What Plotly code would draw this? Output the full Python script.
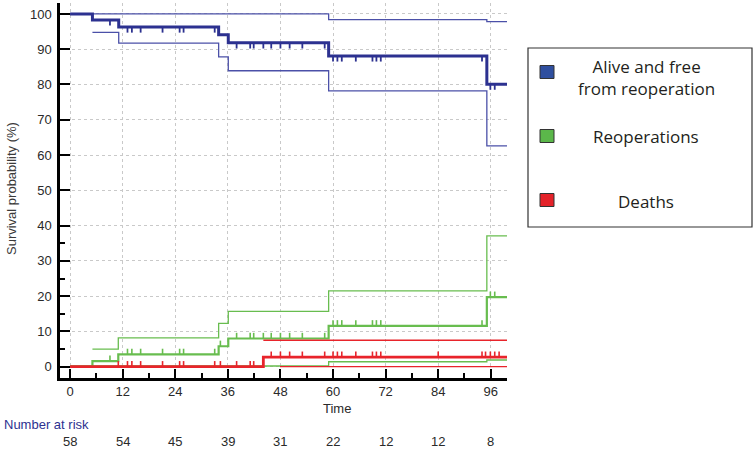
import plotly.graph_objects as go
import bisect

# ---------------- data ----------------
follow_up_end = 100

# Alive and free from reoperation (Kaplan-Meier, %)
blue_t = [0, 5.1, 11.1, 33.9, 36.1, 59.0, 95.1]
blue_v = [100, 98.3, 96.3, 94.1, 91.8, 88.1, 80.1]
blue_up_t = [0, 59.0, 95.1]
blue_up_v = [100, 98.4, 97.8]
blue_lo_t = [5.1, 11.1, 33.9, 36.1, 59.0, 95.1]
blue_lo_v = [94.8, 91.7, 87.8, 83.9, 78.2, 62.6]
blue_cens = [9.1, 13.1, 14.1, 16.1, 21.1, 25.0, 25.9, 33.0, 38.0, 41.1, 41.9, 44.1,
             45.9, 48.0, 50.1, 53.0, 58.1, 60.0, 61.0, 62.0, 65.2, 69.0, 69.9, 70.9,
             94.0, 95.9, 96.9]

# Reoperations (cumulative incidence, %)
green_t = [0, 5.1, 11.0, 33.9, 36.1, 59.0, 95.1]
green_v = [0, 1.6, 3.5, 5.8, 8.0, 11.6, 19.7]
green_up_t = [5.1, 11.0, 33.9, 36.1, 59.0, 95.1]
green_up_v = [5.0, 8.2, 12.3, 15.7, 21.5, 37.1]
green_lo_t = [0, 59.0, 95.1]
green_lo_v = [0.2, 1.4, 1.9]
green_cens = [9.1, 13.1, 14.1, 16.1, 21.1, 25.0, 25.9, 33.0, 34.3, 38.0, 41.1, 41.9,
              44.1, 45.9, 48.0, 50.1, 53.0, 58.1, 60.0, 61.0, 62.0, 65.2, 69.0, 69.9,
              70.9, 94.0, 95.9, 96.9]

# Deaths (cumulative incidence, %)
red_t = [0, 44.1]
red_v = [0, 2.7]
red_up_t = [44.1]
red_up_v = [7.5]
red_lo_t = [47.9]
red_lo_v = [0]
red_cens = [11.0, 13.1, 14.1, 16.1, 21.1, 25.0, 25.9, 33.0, 34.3, 38.0, 41.1, 41.9,
            45.9, 48.0, 50.1, 53.0, 58.1, 60.0, 61.0, 62.0, 65.2, 69.0, 69.9, 70.9,
            84.0, 94.0, 94.8, 95.9, 96.9, 97.9]

risk_times = [0, 12, 24, 36, 48, 60, 72, 84, 96]
risk_counts = [58, 54, 45, 39, 31, 22, 12, 12, 8]

legend_labels = ["Alive and free<br>from reoperation", "Reoperations", "Deaths"]

# ---------------- styles ----------------
BLUE = "#2c3190"
BLUE_CI = "#4b50a8"
GREEN = "#68bd4f"
RED = "#e8242b"
TICK = 1.6  # censor tick length in % units

# plot area in pixels
W, H = 755, 449
PL, PR, PT, PB = 60, 507, 3, 378


def px_x(px):
    return (px - PL) / (PR - PL)


def px_y(py):
    return (PB - py) / (PB - PT)


def step_xy(t, v):
    return list(t) + [follow_up_end], list(v) + [v[-1]]


def step_val(t, v, x):
    i = bisect.bisect_right(t, x) - 1
    return v[max(i, 0)]


def cens_xy(t, v, cens, direction):
    xs, ys = [], []
    for c in cens:
        y0 = step_val(t, v, c)
        xs += [c, c, None]
        ys += [y0, y0 + direction * TICK, None]
    return xs, ys


fig = go.Figure()


def add_line(t, v, color, width):
    x, y = step_xy(t, v)
    fig.add_trace(go.Scatter(x=x, y=y, mode="lines", line=dict(color=color, width=width, shape="hv"),
                             hoverinfo="skip", showlegend=False))


def add_cens(t, v, cens, color, direction, width=1.6):
    x, y = cens_xy(t, v, cens, direction)
    fig.add_trace(go.Scatter(x=x, y=y, mode="lines", line=dict(color=color, width=width),
                             hoverinfo="skip", showlegend=False))


# blue
add_line(blue_up_t, blue_up_v, BLUE_CI, 1.3)
add_line(blue_lo_t, blue_lo_v, BLUE_CI, 1.3)
add_line(blue_t, blue_v, BLUE, 3)
add_cens(blue_t, blue_v, blue_cens, BLUE, -1, 1.8)

# green
add_line(green_up_t, green_up_v, GREEN, 1.3)
add_line(green_lo_t, green_lo_v, GREEN, 1.3)
add_line(green_t, green_v, GREEN, 2.2)
add_cens(green_t, green_v, green_cens, GREEN, 1)

# red
add_line(red_up_t, red_up_v, RED, 1.3)
add_line(red_lo_t, red_lo_v, RED, 1.3)
add_line(red_t, red_v, RED, 2.8)
add_cens(red_t, red_v, red_cens, RED, 1)

ARIAL = "Arial, Liberation Sans, sans-serif"
tickfont = dict(family=ARIAL, size=13, color="#2a2a2a")

fig.update_layout(
    width=W, height=H,
    margin=dict(l=PL, r=W - PR, t=PT, b=H - PB, pad=0),
    paper_bgcolor="white", plot_bgcolor="white",
    showlegend=False,
    xaxis=dict(range=[-2.3, 99.7], tickvals=risk_times, ticks="inside", ticklen=9, tickwidth=2,
               tickcolor="black", showline=True, linewidth=2.5, linecolor="black",
               showgrid=True, gridcolor="#c9c9c9", griddash="dot", gridwidth=1,
               zeroline=False, tickfont=tickfont,
               minor=dict(tickvals=[6, 18, 30, 42, 54, 66, 78, 90], ticks="inside", ticklen=5,
                          tickwidth=1.5, tickcolor="black", showgrid=False)),
    yaxis=dict(range=[-3.2, 103.1], tickvals=list(range(0, 101, 10)), ticks="inside", ticklen=10,
               tickwidth=2, tickcolor="black", showline=True, linewidth=2.5, linecolor="black",
               showgrid=True, gridcolor="#c9c9c9", griddash="dot", gridwidth=1,
               zeroline=False, tickfont=tickfont, ticklabelstandoff=3,
               minor=dict(tickvals=[5, 15, 25, 35], ticks="inside", ticklen=5,
                          tickwidth=1.5, tickcolor="black", showgrid=False)),
)


def note(x, y, text, xref="paper", size=13, color="#2a2a2a", family=ARIAL, xanchor="center", **kw):
    return dict(x=x, y=y, xref=xref, yref="paper", text=text, showarrow=False,
                xanchor=xanchor, yanchor="middle", font=dict(family=family, size=size, color=color), **kw)


ann = []
ann.append(note(px_x(337), px_y(408), "Time"))
ann.append(note(px_x(11), px_y(189), "Survival probability (%)", size=13, color="#3a3a3a", textangle=-90))
ann.append(note(px_x(2), px_y(424), "Number at risk", color="#2c3190", xanchor="left"))
for t, n in zip(risk_times, risk_counts):
    ann.append(note(t, px_y(441), str(n), xref="x"))

# legend box
shapes = [dict(type="rect", xref="paper", yref="paper", x0=px_x(528), x1=px_x(752),
               y0=px_y(48), y1=px_y(227), line=dict(color="#333333", width=1.2), fillcolor="white")]
leg_colors = ["#2f4f9f", "#5bb74a", "#e42229"]
leg_sq_y = [72, 136, 200]
leg_txt_y = [77.5, 136.5, 201]
for lab, col, sy, ty in zip(legend_labels, leg_colors, leg_sq_y, leg_txt_y):
    shapes.append(dict(type="rect", xref="paper", yref="paper", x0=px_x(540), x1=px_x(554),
                       y0=px_y(sy + 6.5), y1=px_y(sy - 6.5), line=dict(color="#333333", width=1),
                       fillcolor=col))
    ann.append(note(px_x(646), px_y(ty), lab, family="Open Sans, sans-serif", size=17,
                    color="#231f20", align="center"))

fig.update_layout(annotations=ann, shapes=shapes)
fig.write_html("out.html")
